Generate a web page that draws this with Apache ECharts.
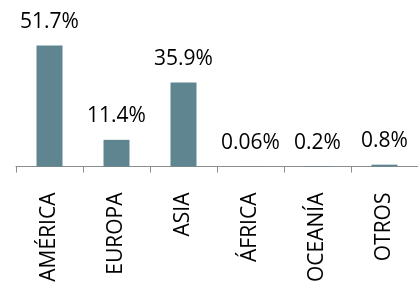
<!DOCTYPE html>
<html><head><meta charset="utf-8">
<script src="https://cdn.jsdelivr.net/npm/echarts@6/dist/echarts.min.js"></script>
<style>html,body{margin:0;padding:0;background:#fff}#c{width:418px;height:285px}</style>
</head><body><div id="c"></div>
<script>
const categories = ['AMÉRICA', 'EUROPA', 'ASIA', 'ÁFRICA', 'OCEANÍA', 'OTROS'];
const shares = [51.7, 11.4, 35.9, 0.06, 0.2, 0.8];

const chart = echarts.init(document.getElementById('c'), null, {renderer: 'canvas'});
chart.setOption({
  animation: false,
  grid: {left: 16, right: 0, top: 26, bottom: 118},
  xAxis: {
    type: 'category',
    data: categories,
    axisLine: {lineStyle: {color: '#8c8c8c', width: 1}},
    axisTick: {show: true, length: 6, lineStyle: {color: '#8c8c8c'}},
    axisLabel: {rotate: 90, margin: 26, fontFamily: 'Open Sans', fontSize: 21, color: '#000', interval: 0}
  },
  yAxis: {type: 'value', min: 0, max: 60, show: false, splitLine: {show: false}},
  series: [{
    type: 'bar',
    data: shares,
    barWidth: 26,
    itemStyle: {color: '#5f8690'},
    label: {
      show: true, position: 'top', distance: 13,
      fontFamily: 'Open Sans', fontSize: 21, color: '#000',
      formatter: p => p.value + '%'
    }
  }]
});
</script></body></html>
